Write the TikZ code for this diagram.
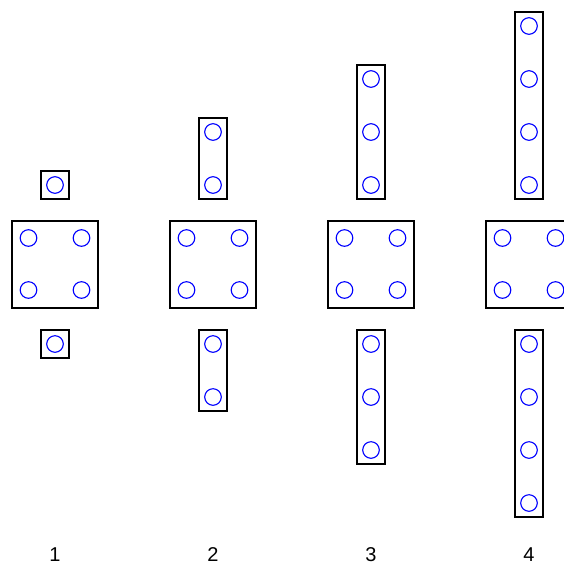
\documentclass[tikz,border=0pt]{standalone}
\usepackage{fontspec}
\setmainfont{Liberation Sans}
\usetikzlibrary{positioning}
\definecolor{holeblue}{RGB}{0,0,255}

\begin{document}
\begin{tikzpicture}[x=1pt,y=-1pt,
  plate/.style={draw=black, line width=1.2pt},
  hole/.style={draw=holeblue, line width=1.1pt}]
\useasboundingbox (0,0) rectangle (564,563);
\clip (0,0) rectangle (564,563);
\foreach \k in {1,...,4}{
  \pgfmathsetmacro{\cx}{55+158*(\k-1)}
  % middle plate with four holes
  \draw[plate] (\cx-43,221) rectangle (\cx+43,308);
  \foreach \dx in {-26.5,26.5}
    \foreach \yy in {238,290}
      \draw[hole] (\cx+\dx,\yy) circle[radius=8.3pt];
  % top and bottom strips
  \pgfmathsetmacro{\len}{28+53*(\k-1)}
  \draw[plate] (\cx-14,199) rectangle (\cx+14,199-\len);
  \draw[plate] (\cx-14,330) rectangle (\cx+14,330+\len);
  \foreach \i in {1,...,\k}{
    \pgfmathsetmacro{\up}{185-53*(\i-1)}
    \pgfmathsetmacro{\dn}{344+53*(\i-1)}
    \draw[hole] (\cx,\up) circle[radius=8.3pt];
    \draw[hole] (\cx,\dn) circle[radius=8.3pt];
  }
  \node[font=\fontsize{20}{20}\selectfont, inner sep=0pt, anchor=base] (num\k) at (\cx,561) {\k};
}
\end{tikzpicture}
\end{document}
